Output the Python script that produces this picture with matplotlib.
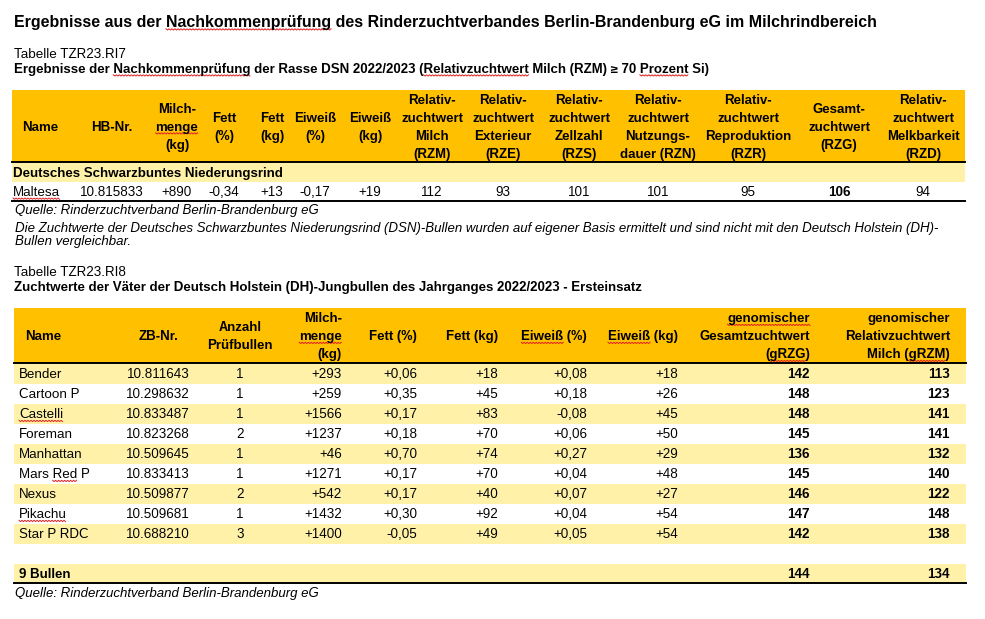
import numpy as np
import matplotlib
matplotlib.use("Agg")
import matplotlib.pyplot as plt
from matplotlib.font_manager import FontProperties

plt.rcParams['font.family'] = ['Liberation Sans', 'DejaVu Sans']
plt.rcParams['text.hinting'] = 'native'

# ---------------- data ----------------
title = "Ergebnisse aus der Nachkommenprüfung des Rinderzuchtverbandes Berlin-Brandenburg eG im Milchrindbereich"
t1_label = "Tabelle TZR23.RI7"
t1_title = "Ergebnisse der Nachkommenprüfung der Rasse DSN 2022/2023 (Relativzuchtwert Milch (RZM) ≥ 70 Prozent Si)"
t1_headers = ["Name", "HB-Nr.", "Milch-\nmenge\n(kg)", "Fett\n(%)", "Fett\n(kg)", "Eiweiß\n(%)", "Eiweiß\n(kg)",
              "Relativ-\nzuchtwert\nMilch\n(RZM)", "Relativ-\nzuchtwert\nExterieur\n(RZE)",
              "Relativ-\nzuchtwert\nZellzahl\n(RZS)", "Relativ-\nzuchtwert\nNutzungs-\ndauer (RZN)",
              "Relativ-\nzuchtwert\nReproduktion\n(RZR)", "Gesamt-\nzuchtwert\n(RZG)",
              "Relativ-\nzuchtwert\nMelkbarkeit\n(RZD)"]
t1_group = "Deutsches Schwarzbuntes Niederungsrind"
t1_row = ["Maltesa", "10.815833", "+890", "-0,34", "+13", "-0,17", "+19", "112", "93", "101", "101", "95", "106", "94"]
t1_source = "Quelle: Rinderzuchtverband Berlin-Brandenburg eG"
t1_note = ("Die Zuchtwerte der Deutsches Schwarzbuntes Niederungsrind (DSN)-Bullen wurden auf eigener Basis ermittelt und sind nicht mit den Deutsch Holstein (DH)-\n"
           "Bullen vergleichbar.")

t2_label = "Tabelle TZR23.RI8"
t2_title = "Zuchtwerte der Väter der Deutsch Holstein (DH)-Jungbullen des Jahrganges 2022/2023 - Ersteinsatz"
t2_headers = ["Name", "ZB-Nr.", "Anzahl\nPrüfbullen", "Milch-\nmenge\n(kg)", "Fett (%)", "Fett (kg)",
              "Eiweiß (%)", "Eiweiß (kg)", "genomischer\nGesamtzuchtwert\n(gRZG)",
              "genomischer\nRelativzuchtwert\nMilch (gRZM)"]
names = ["Bender", "Cartoon P", "Castelli", "Foreman", "Manhattan", "Mars Red P", "Nexus", "Pikachu", "Star P RDC"]
zb_nr = ["10.811643", "10.298632", "10.833487", "10.823268", "10.509645", "10.833413", "10.509877", "10.509681", "10.688210"]
anzahl = [1, 1, 1, 2, 1, 1, 2, 1, 3]
milch_kg = [293, 259, 1566, 1237, 46, 1271, 542, 1432, 1400]
fett_pct = [0.06, 0.35, 0.17, 0.18, 0.70, 0.17, 0.17, 0.30, -0.05]
fett_kg = [18, 45, 83, 70, 74, 70, 40, 92, 49]
eiweiss_pct = [0.08, 0.18, -0.08, 0.06, 0.27, 0.04, 0.07, 0.04, 0.05]
eiweiss_kg = [18, 26, 45, 50, 29, 48, 27, 54, 54]
grzg = [142, 148, 148, 145, 136, 145, 146, 147, 142]
grzm = [113, 123, 141, 141, 132, 140, 122, 148, 138]
total_label = "9 Bullen"
total_grzg = 144
total_grzm = 134
t2_source = "Quelle: Rinderzuchtverband Berlin-Brandenburg eG"

# ---------------- style ----------------
GOLD = "#FFC000"
LIGHT = "#FFF2A8"
W, H = 985, 619
FS = 9.6
FS_B = 9.55
FS_I = 9.55

fig = plt.figure(figsize=(W / 100, H / 100), dpi=100)
ax = fig.add_axes([0, 0, 1, 1])
ax.set_xlim(0, W)
ax.set_ylim(H, 0)
ax.axis("off")
renderer = fig.canvas.get_renderer()


def fmt_signed_int(v):
    return f"{v:+d}"


def fmt_signed_dec(v):
    return f"{v:+.2f}".replace(".", ",")


def text_width(s, size, weight="normal", style="normal"):
    prop = FontProperties(family=['Liberation Sans', 'DejaVu Sans'], size=size, weight=weight, style=style)
    w, h, d = renderer.get_text_width_height_descent(s, prop, ismath=False)
    return w


def squiggle(x0, x1, y):
    xs = np.arange(x0, x1 + 0.01, 1.5)
    ys = y + np.where(np.arange(len(xs)) % 2 == 0, 0.0, 1.3)
    ax.plot(xs, ys, color="#E02020", lw=0.7, solid_joinstyle="miter")


def txt(x, yc, s, size=FS, ha="left", weight="normal", style="normal", ls=18, underline=()):
    """Place (possibly multi-line) text; yc = visual center of block."""
    lines = s.split("\n")
    n = len(lines)
    px = size * 100 / 72
    for i, line in enumerate(lines):
        y_center = yc + (i - (n - 1) / 2) * ls
        yb = y_center + 0.36 * px
        ax.text(x, yb, line, fontsize=size, ha=ha, va="baseline", weight=weight, style=style, color="black")
        for word in underline:
            if word in line:
                full = text_width(line, size, weight, style)
                idx = line.index(word)
                pre = text_width(line[:idx], size, weight, style) if idx > 0 else 0
                ww = text_width(word, size, weight, style)
                if ha == "left":
                    start = x
                elif ha == "right":
                    start = x - full
                else:
                    start = x - full / 2
                squiggle(start + pre, start + pre + ww, yb + 2.0)


# ---------------- titles ----------------
txt(14, 21, title, size=11.5, weight="bold", underline=("Nachkommenprüfung",))
txt(14, 53, t1_label, size=FS)
txt(14, 68, t1_title, size=FS_B, weight="bold", underline=("Nachkommenprüfung", "Relativzuchtwert", "Prozent"))

# ---------------- table 1 ----------------
t1_left, t1_right = 12, 965
t1_top, t1_hdr_bot = 90, 162
t1_row_h = 19
t1_cx = [40, 112, 177, 224, 272, 315, 370, 432, 503, 579, 658, 748, 839, 923]

ax.add_patch(plt.Rectangle((t1_left, t1_top), t1_right - t1_left, t1_hdr_bot - t1_top, color=GOLD, lw=0))
hdr_c = (t1_top + t1_hdr_bot) / 2
for cx, h in zip(t1_cx, t1_headers):
    txt(cx, hdr_c, h, size=FS_B, ha="center", weight="bold", underline=("menge",))
ax.plot([t1_left, t1_right], [t1_hdr_bot, t1_hdr_bot], color="black", lw=1.4)

g_top = t1_hdr_bot + 0.7
ax.add_patch(plt.Rectangle((t1_left, g_top), t1_right - t1_left, t1_row_h, color=LIGHT, lw=0))
txt(13, g_top + t1_row_h / 2, t1_group, size=FS_B, weight="bold")

r_top = g_top + t1_row_h
r_c = r_top + t1_row_h / 2
for j, (cx, v) in enumerate(zip(t1_cx, t1_row)):
    if j == 0:
        txt(13, r_c, v, underline=("Maltesa",))
    else:
        txt(cx, r_c, v, ha="center", weight="bold" if j == 12 else "normal")
ax.plot([t1_left, t1_right], [r_top + t1_row_h, r_top + t1_row_h], color="black", lw=1.4)

txt(15, 209, t1_source, size=FS_I, style="italic")
txt(15, 233.5, t1_note, size=FS_I, style="italic", ls=13.5)

# ---------------- table 2 ----------------
txt(14, 271, t2_label, size=FS)
txt(14, 286, t2_title, size=FS_B, weight="bold")

t2_left, t2_right = 14, 966
t2_top, t2_hdr_bot = 308, 363
row_h = 20
ax.add_patch(plt.Rectangle((t2_left, t2_top), t2_right - t2_left, t2_hdr_bot - t2_top, color=GOLD, lw=0))
hc = (t2_top + t2_hdr_bot) / 2
t2_x = [25, 158, 240, 342, 417, 498, 587, 678, 810, 950]
t2_ha = ["left", "center", "center", "right", "right", "right", "right", "right", "right", "right"]
for k, (x, ha, h) in enumerate(zip(t2_x, t2_ha, t2_headers)):
    ul = ("menge", "Eiweiß", "gRZG", "gRZM")
    if k == 8:
        ul = ul + ("genomischer",)
    txt(x, hc, h, size=FS_B, ha=ha, weight="bold", underline=ul)

columns = [
    names, zb_nr, [str(a) for a in anzahl], [fmt_signed_int(v) for v in milch_kg],
    [fmt_signed_dec(v) for v in fett_pct], [fmt_signed_int(v) for v in fett_kg],
    [fmt_signed_dec(v) for v in eiweiss_pct], [fmt_signed_int(v) for v in eiweiss_kg],
    [str(v) for v in grzg], [str(v) for v in grzm],
]
for i in range(len(names)):
    top = t2_hdr_bot + i * row_h
    if i % 2 == 0:
        ax.add_patch(plt.Rectangle((t2_left, top + 0.7), t2_right - t2_left, row_h, color=LIGHT, lw=0))
    yc = top + row_h / 2 + 0.5
    for k, col in enumerate(columns):
        x = 19 if k == 0 else t2_x[k]
        txt(x, yc, col[i], ha=t2_ha[k], weight="bold" if k >= 8 else "normal",
            underline=("Castelli", "Red", "Pikachu") if k == 0 else ())
ax.plot([t2_left, t2_right], [t2_hdr_bot, t2_hdr_bot], color="black", lw=1.4)

tot_top = t2_hdr_bot + len(names) * row_h + row_h + 1
ax.add_patch(plt.Rectangle((t2_left, tot_top), t2_right - t2_left, row_h - 1, color=LIGHT, lw=0))
tc = tot_top + (row_h - 1) / 2
txt(19, tc, total_label, size=FS_B, weight="bold")
txt(t2_x[8], tc, str(total_grzg), ha="right", weight="bold")
txt(t2_x[9], tc, str(total_grzm), ha="right", weight="bold")
ax.plot([t2_left, t2_right], [tot_top + row_h - 1, tot_top + row_h - 1], color="black", lw=1.4)

txt(15, 592, t2_source, size=FS_I, style="italic")

fig.savefig("out.png", dpi=100, facecolor="white")
